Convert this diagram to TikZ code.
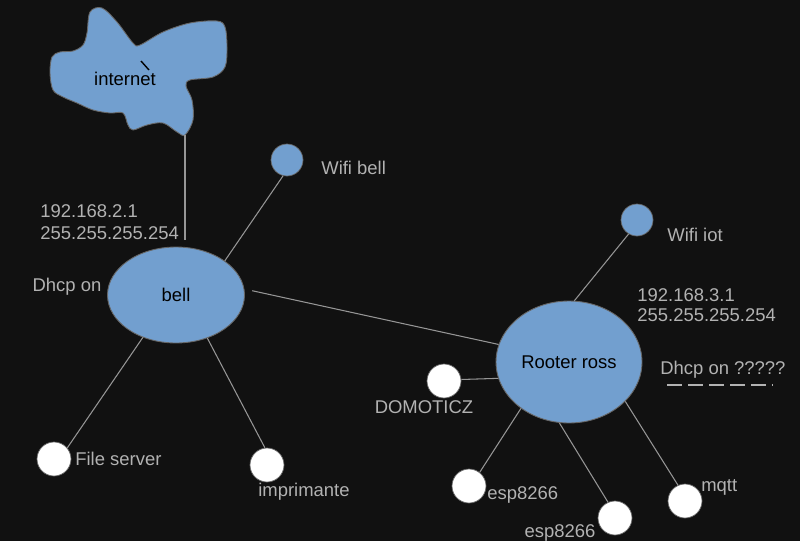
\documentclass[tikz,border=0pt]{standalone}
\usepackage{fontspec}
\setmainfont{Liberation Sans}
\usetikzlibrary{shapes.geometric}
\definecolor{bgdark}{RGB}{17,17,17}
\definecolor{hubblue}{RGB}{114,159,207}
\definecolor{wiregray}{RGB}{150,150,150}
\definecolor{labelgray}{RGB}{178,178,178}

\begin{document}
\begin{tikzpicture}[x=0.02cm, y=-0.02cm,
  every node/.style={font=\fontsize{10.5}{12.5}\selectfont},
  hub/.style={ellipse, draw=gray!80!black, fill=hubblue, line width=0.5pt, inner sep=0pt},
  wifi/.style={circle, draw=gray!80!black, fill=hubblue, minimum size=0.64cm, inner sep=0pt},
  host/.style={circle, draw=gray!80!black, fill=white, minimum size=0.68cm, inner sep=0pt},
  lbl/.style={text=labelgray, inner sep=0pt},
  wire/.style={draw=wiregray, line width=0.6pt}]
  \useasboundingbox (0,0) rectangle (800,541);
  \fill[bgdark] (0,0) rectangle (800,541);
  \draw[gray!80!black, fill=hubblue, line width=0.5pt] plot[smooth cycle, tension=0.55] coordinates {
    (90,12) (102,8) (117,22) (133,43) (140,45) (163,32) (190,23) (217,21) (225,27)
    (227,47) (225,67) (213,77) (190,80) (186,86) (192,100) (193,120) (185,135)
    (177,132) (163,123) (147,125) (133,130) (128,125) (123,113) (110,113) (93,110)
    (77,103) (63,97) (53,90) (50,73) (52,57) (60,52) (73,51) (83,45) (87,33)};
  \draw[black, line width=0.8pt] (141,61) -- (149,70);
  \node (internet) at (125,79) {internet};
  \coordinate (cloudfoot) at (185,135);
  \coordinate (bellwire) at (185,240);
  \node[hub, minimum width=2.74cm, minimum height=1.92cm] (bell) at (176,295) {bell};
  \node[hub, minimum width=2.92cm, minimum height=2.44cm] (ross) at (569,362) {Rooter ross};
  \node[wifi] (wifibell) at (287,160) {};
  \node[wifi] (wifiiot) at (637,220) {};
  \node[host] (domoticz) at (444,381) {};
  \node[host] (fileserver) at (54,459) {};
  \node[host] (printer) at (267,465) {};
  \node[host] (espa) at (469,486) {};
  \node[host] (espb) at (615,518) {};
  \node[host] (mqtt) at (685,501) {};
  \draw[wire] (cloudfoot) -- (bellwire);
  \draw[wire] (wifibell.256) -- (bell.35);
  \draw[wire, shorten <=0.16cm] (bell.5) -- (ross.166);
  \draw[wire] (wifiiot.239) -- (ross.85);
  \draw[wire] (domoticz.5) -- (ross.193);
  \draw[wire] (fileserver.40) -- (bell.232);
  \draw[wire] (printer.97) -- (bell.306);
  \draw[wire] (espa.52) -- (ross.224);
  \draw[wire] (espb.114) -- (ross.261);
  \draw[wire] (mqtt.114) -- (ross.325);
  \node[lbl, align=left, anchor=west] (ipbell) at (40,222) {192.168.2.1\\255.255.255.254};
  \node[lbl] (dhcpbell) at (67,287) {Dhcp on};
  \node[lbl, anchor=west] (wifibelltxt) at (321,168) {Wifi bell};
  \node[lbl, anchor=west] (wifiiottxt) at (667,235) {Wifi iot};
  \node[lbl, align=left, anchor=west] (iprost) at (637,305) {192.168.3.1\\[-1pt]255.255.255.254};
  \node[lbl, anchor=west] (dhcpross) at (660,370) {Dhcp on ?????};
  \draw[labelgray, line width=0.6pt, dash pattern=on 0.3cm off 0.12cm] (667,385) -- (773,385);
  \node[lbl] (domotext) at (424,407) {DOMOTICZ};
  \node[lbl, anchor=west] (filetext) at (75,459) {File server};
  \node[lbl] (printtext) at (304,492) {imprimante};
  \node[lbl, anchor=west] (espatext) at (487,495) {esp8266};
  \node[lbl] (espbtext) at (560,533) {esp8266};
  \node[lbl, anchor=west] (mqtttext) at (701,487) {mqtt};
\end{tikzpicture}
\end{document}
